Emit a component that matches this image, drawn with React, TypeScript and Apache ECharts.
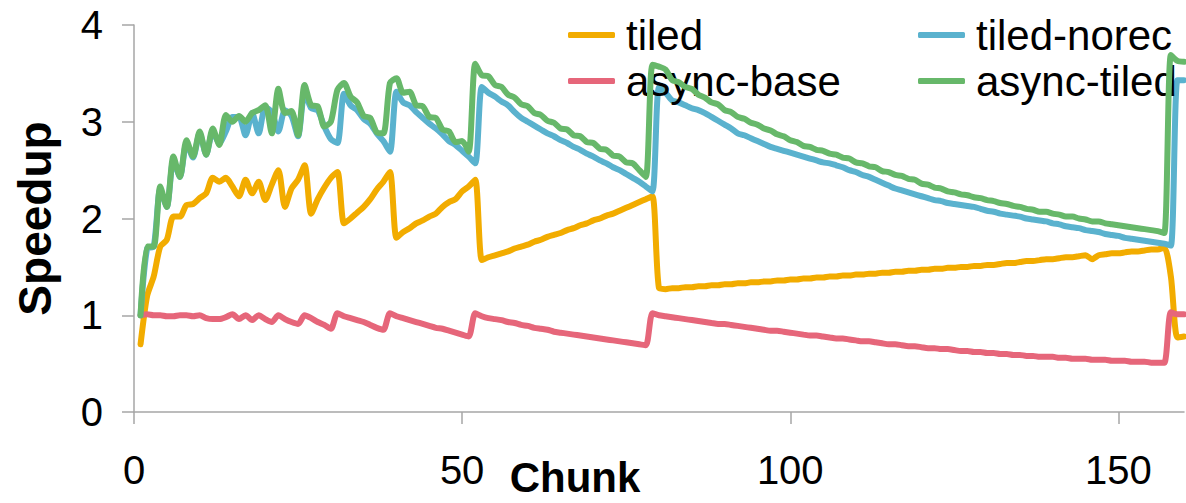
import React, { useEffect, useRef } from "react";
import * as echarts from "echarts";

const seriesNames = ["tiled", "tiled-norec", "async-base", "async-tiled"];
const seriesColors = ["#F2AC00", "#5AB2CE", "#E6667A", "#67B86A"];
const xTicks = [0, 50, 100, 150];

// chunk index 1..160
const chunks: number[] = Array.from({ length: 160 }, (_, i) => i + 1);

const tiled = [
  0.70, 1.20, 1.40, 1.71, 1.78, 2.02, 2.02, 2.14, 2.15, 2.21,
  2.26, 2.42, 2.38, 2.42, 2.33, 2.23, 2.40, 2.26, 2.38, 2.19,
  2.35, 2.50, 2.12, 2.31, 2.40, 2.55, 2.05, 2.20, 2.32, 2.42,
  2.48, 1.95, 2.00, 2.06, 2.12, 2.20, 2.30, 2.38, 2.48, 1.80,
  1.86, 1.90, 1.95, 1.98, 2.02, 2.05, 2.12, 2.17, 2.20, 2.28,
  2.33, 2.40, 1.57, 1.60, 1.62, 1.64, 1.66, 1.69, 1.71, 1.73,
  1.76, 1.78, 1.81, 1.83, 1.85, 1.88, 1.90, 1.93, 1.95, 1.98,
  2.00, 2.03, 2.05, 2.08, 2.11, 2.14, 2.17, 2.20, 2.23, 1.28,
  1.27, 1.28, 1.28, 1.29, 1.29, 1.30, 1.30, 1.31, 1.31, 1.32,
  1.32, 1.33, 1.33, 1.34, 1.34, 1.35, 1.35, 1.36, 1.36, 1.37,
  1.37, 1.38, 1.38, 1.39, 1.39, 1.40, 1.40, 1.41, 1.41, 1.42,
  1.42, 1.43, 1.43, 1.44, 1.44, 1.45, 1.45, 1.46, 1.46, 1.47,
  1.47, 1.48, 1.48, 1.49, 1.49, 1.50, 1.50, 1.51, 1.51, 1.52,
  1.52, 1.53, 1.54, 1.54, 1.55, 1.56, 1.56, 1.57, 1.58, 1.58,
  1.59, 1.60, 1.60, 1.61, 1.62, 1.58, 1.62, 1.63, 1.64, 1.64,
  1.65, 1.66, 1.66, 1.67, 1.68, 1.68, 1.70, 1.40, 0.77, 0.78,
];

const tiledNorec = [
  1.00, 1.69, 1.71, 2.30, 2.12, 2.60, 2.43, 2.78, 2.63, 2.88,
  2.66, 2.90, 2.78, 2.90, 3.05, 3.05, 2.86, 3.09, 2.88, 3.15,
  3.10, 2.90, 3.12, 3.06, 2.85, 3.30, 3.14, 3.12, 2.95, 2.82,
  2.78, 3.29, 3.17, 3.12, 3.03, 2.98, 2.88, 2.80, 2.69, 3.31,
  3.20, 3.17, 3.10, 3.04, 2.98, 2.93, 2.87, 2.80, 2.76, 2.70,
  2.64, 2.57, 3.36, 3.30, 3.26, 3.21, 3.17, 3.10, 3.04, 3.00,
  2.96, 2.92, 2.88, 2.85, 2.81, 2.78, 2.74, 2.71, 2.67, 2.64,
  2.60, 2.57, 2.53, 2.50, 2.46, 2.42, 2.38, 2.33, 2.28, 3.36,
  3.30, 3.22, 3.20, 3.17, 3.14, 3.12, 3.09, 3.05, 3.01, 2.97,
  2.93, 2.88, 2.86, 2.83, 2.80, 2.77, 2.74, 2.72, 2.70, 2.68,
  2.66, 2.64, 2.62, 2.60, 2.58, 2.57, 2.55, 2.53, 2.50, 2.48,
  2.45, 2.43, 2.40, 2.37, 2.34, 2.31, 2.29, 2.27, 2.25, 2.23,
  2.21, 2.19, 2.18, 2.16, 2.15, 2.14, 2.13, 2.12, 2.10, 2.08,
  2.07, 2.05, 2.04, 2.03, 2.02, 2.00, 1.99, 1.98, 1.97, 1.95,
  1.94, 1.92, 1.91, 1.90, 1.88, 1.87, 1.86, 1.84, 1.83, 1.82,
  1.80, 1.79, 1.78, 1.77, 1.76, 1.75, 1.74, 1.72, 3.43, 3.43,
];

const asyncBase = [
  1.00, 1.01, 1.00, 1.00, 0.99, 0.99, 1.00, 1.00, 0.99, 1.00,
  0.97, 0.96, 0.96, 0.98, 1.01, 0.96, 1.00, 0.95, 1.00, 0.96,
  0.93, 1.00, 0.96, 0.93, 0.91, 1.00, 0.97, 0.93, 0.90, 0.86,
  1.02, 0.99, 0.97, 0.95, 0.93, 0.90, 0.87, 0.85, 1.02, 0.99,
  0.97, 0.95, 0.93, 0.91, 0.89, 0.87, 0.86, 0.84, 0.82, 0.80,
  0.78, 1.02, 0.99, 0.97, 0.96, 0.95, 0.93, 0.92, 0.90, 0.89,
  0.87, 0.86, 0.85, 0.83, 0.82, 0.81, 0.80, 0.79, 0.78, 0.77,
  0.76, 0.75, 0.74, 0.73, 0.72, 0.71, 0.70, 0.69, 1.02, 1.00,
  0.99, 0.98, 0.97, 0.96, 0.95, 0.94, 0.93, 0.92, 0.91, 0.91,
  0.90, 0.89, 0.88, 0.87, 0.86, 0.85, 0.84, 0.84, 0.83, 0.82,
  0.81, 0.80, 0.79, 0.79, 0.78, 0.77, 0.76, 0.76, 0.75, 0.74,
  0.73, 0.73, 0.72, 0.71, 0.70, 0.70, 0.69, 0.68, 0.68, 0.67,
  0.66, 0.66, 0.65, 0.65, 0.64, 0.63, 0.63, 0.62, 0.62, 0.61,
  0.61, 0.60, 0.60, 0.59, 0.59, 0.58, 0.58, 0.57, 0.57, 0.57,
  0.56, 0.56, 0.55, 0.55, 0.55, 0.54, 0.54, 0.54, 0.53, 0.53,
  0.53, 0.52, 0.52, 0.52, 0.51, 0.51, 0.51, 1.03, 1.01, 1.01,
];

const asyncTiled = [
  1.00, 1.71, 1.71, 2.33, 2.12, 2.64, 2.43, 2.81, 2.64, 2.90,
  2.66, 2.93, 2.76, 3.07, 3.00, 3.06, 3.00, 3.09, 3.12, 3.17,
  2.88, 3.34, 3.09, 3.11, 2.86, 3.38, 3.17, 3.16, 2.95, 3.00,
  3.33, 3.40, 3.26, 3.20, 3.06, 3.04, 2.89, 2.88, 3.40, 3.45,
  3.30, 3.31, 3.17, 3.16, 3.05, 3.04, 2.92, 2.90, 2.79, 2.80,
  2.69, 3.60, 3.48, 3.47, 3.38, 3.36, 3.28, 3.25, 3.18, 3.16,
  3.09, 3.07, 3.01, 2.99, 2.93, 2.92, 2.86, 2.85, 2.79, 2.78,
  2.72, 2.71, 2.65, 2.64, 2.58, 2.57, 2.50, 2.43, 3.59, 3.57,
  3.54, 3.43, 3.41, 3.36, 3.34, 3.28, 3.25, 3.20, 3.18, 3.12,
  3.10, 3.05, 3.03, 2.99, 2.97, 2.93, 2.91, 2.87, 2.85, 2.81,
  2.79, 2.75, 2.74, 2.71, 2.70, 2.67, 2.66, 2.63, 2.62, 2.58,
  2.57, 2.54, 2.53, 2.49, 2.48, 2.45, 2.44, 2.41, 2.40, 2.36,
  2.35, 2.32, 2.31, 2.28, 2.27, 2.25, 2.24, 2.22, 2.21, 2.19,
  2.18, 2.16, 2.15, 2.13, 2.12, 2.10, 2.09, 2.07, 2.07, 2.05,
  2.04, 2.02, 2.02, 2.00, 1.99, 1.97, 1.97, 1.95, 1.94, 1.93,
  1.92, 1.91, 1.90, 1.89, 1.88, 1.87, 1.85, 3.69, 3.63, 3.62,
];

const seriesValues = [tiled, tiledNorec, asyncBase, asyncTiled];

const FONT = "'Liberation Sans', Arial, Helvetica, sans-serif";
const AXIS_COLOR = "#A6A6A6";

export default function App() {
  const ref = useRef<HTMLDivElement>(null);

  useEffect(() => {
    if (!ref.current) return;
    const chart = echarts.init(ref.current, undefined, { renderer: "svg" });

    const legendCommon = {
      orient: "vertical",
      top: 14,
      padding: 0,
      itemGap: 4,
      itemWidth: 47,
      itemHeight: 6,
      icon: "roundRect",
      textStyle: {
        fontSize: 42,
        color: "#000",
        fontFamily: FONT,
        padding: [0, 0, 0, 6],
      },
    };

    chart.setOption({
      animation: false,
      backgroundColor: "#ffffff",
      textStyle: { fontFamily: FONT },
      legend: [
        { ...legendCommon, left: 568, data: [seriesNames[0], seriesNames[2]] },
        { ...legendCommon, left: 918, data: [seriesNames[1], seriesNames[3]] },
      ],
      grid: {
        left: 134,
        right: 2,
        top: 25,
        bottom: 91,
        containLabel: false,
        outerBoundsMode: "none",
      },
      xAxis: {
        type: "value",
        min: 0,
        max: 160,
        interval: 50,
        name: "Chunk",
        nameLocation: "middle",
        nameGap: 44,
        nameMoveOverlap: false,
        nameTextStyle: {
          fontSize: 42,
          fontWeight: "bold",
          color: "#000",
          fontFamily: FONT,
          padding: [0, 168, 0, 0],
        },
        axisLine: { show: true, lineStyle: { color: AXIS_COLOR, width: 1.5 } },
        axisTick: {
          show: true,
          length: 12,
          inside: false,
          customValues: xTicks,
          lineStyle: { color: AXIS_COLOR, width: 1.5 },
        },
        axisLabel: {
          customValues: xTicks,
          fontSize: 40,
          color: "#000",
          margin: 38,
          fontFamily: FONT,
        },
        splitLine: { show: false },
      },
      yAxis: {
        type: "value",
        min: 0,
        max: 4,
        interval: 1,
        name: "Speedup",
        nameLocation: "middle",
        nameGap: 76,
        nameMoveOverlap: false,
        nameTextStyle: {
          fontSize: 46,
          fontWeight: "bold",
          color: "#000",
          fontFamily: FONT,
        },
        axisLine: { show: true, lineStyle: { color: AXIS_COLOR, width: 1.5 } },
        axisTick: { show: true, length: 12, lineStyle: { color: AXIS_COLOR, width: 1.5 } },
        axisLabel: {
          fontSize: 40,
          color: "#000",
          margin: 31,
          fontFamily: FONT,
        },
        splitLine: { show: false },
      },
      series: seriesNames.map((name, i) => ({
        name,
        type: "line",
        showSymbol: false,
        symbol: "none",
        clip: true,
        smooth: 0.25,
        color: seriesColors[i],
        lineStyle: { width: 6, color: seriesColors[i], cap: "round", join: "round" },
        data: chunks.map((c, j) => [c, seriesValues[i][j]]),
        z: 2 + i,
      })),
    });

    return () => chart.dispose();
  }, []);

  return (
    <div
      ref={ref}
      style={{ position: "fixed", left: 0, top: 0, width: 1186, height: 503, background: "#fff" }}
    />
  );
}
